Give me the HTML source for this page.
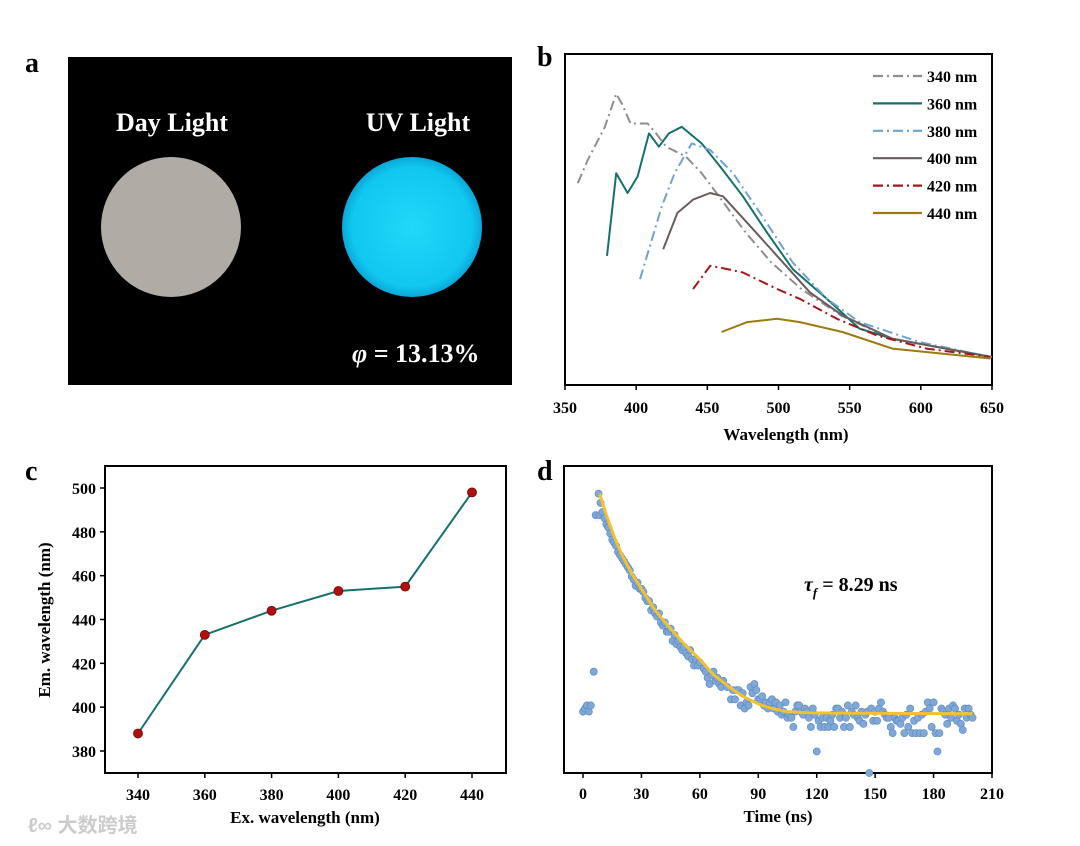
<!DOCTYPE html>
<html><head><meta charset="utf-8"><style>
html,body{margin:0;padding:0;background:#fff;}
svg{display:block;font-family:"Liberation Serif",serif;font-weight:bold;}
</style></head><body>
<svg id="fig" width="1080" height="846" viewBox="0 0 1080 846" xmlns="http://www.w3.org/2000/svg">
<g font-size="28" fill="#000">
<text x="25" y="72">a</text>
<text x="537" y="66">b</text>
<text x="25" y="480">c</text>
<text x="537" y="480">d</text>
</g>
<g>
<rect x="68" y="57" width="444" height="328" fill="#000"/>
<defs><radialGradient id="cy" cx="50%" cy="50%" r="50%"><stop offset="0" stop-color="#20d8f8"/><stop offset="0.85" stop-color="#10c8f0"/><stop offset="1" stop-color="#0aa8d8"/></radialGradient></defs>
<circle cx="171" cy="227" r="70" fill="#b0aca5"/>
<circle cx="412" cy="227" r="70" fill="url(#cy)"/>
<text x="172" y="131" text-anchor="middle" font-size="26" fill="#fff">Day Light</text>
<text x="418" y="131" text-anchor="middle" font-size="26" fill="#fff">UV Light</text>
<text x="352" y="362" font-size="26" fill="#fff"><tspan font-style="italic">φ</tspan> = 13.13%</text>
</g>
<g id="pb"></g>
<g id="pc"></g>
<g id="pd"></g>
<text x="28" y="832" font-size="20" fill="#ccc" font-family="'Liberation Sans','Noto Sans CJK SC',sans-serif">ℓ∞ 大数跨境</text>
</svg>
<script>
// ---- Panel b data ----
const bSeriesNames=["340 nm","360 nm","380 nm","400 nm","420 nm","440 nm"];
const wl340=[359,366,378,386,390,396,408,414,421,435,446,453,477,495,516,544,579,650];
const in340=[0.61,0.68,0.78,0.88,0.85,0.79,0.79,0.76,0.72,0.69,0.64,0.60,0.46,0.37,0.29,0.21,0.14,0.085];
const wl360=[379.5,386,394,401,409,416,423,432,446,459,475,492,510,534,557,580,649];
const in360=[0.39,0.64,0.58,0.63,0.76,0.72,0.76,0.78,0.73,0.66,0.57,0.46,0.35,0.26,0.17,0.14,0.085];
const wl380=[402.7,418,427,439,452,468,487,510,534,557,599,649];
const in380=[0.32,0.54,0.64,0.73,0.71,0.64,0.52,0.37,0.26,0.19,0.13,0.085];
const wl400=[419,429,440,452,461,478,499,522,545,580,649];
const in400=[0.41,0.52,0.56,0.58,0.57,0.49,0.39,0.28,0.21,0.14,0.085];
const wl420=[440,452,464,475,499,515,541,569,604,649];
const in420=[0.29,0.36,0.35,0.34,0.29,0.26,0.20,0.15,0.11,0.085];
const wl440=[460,478,499,515,545,580,649];
const in440=[0.16,0.19,0.20,0.19,0.16,0.11,0.08];
const bTicks=[350,400,450,500,550,600,650];
// ---- Panel c data ----
const exWl=[340,360,380,400,420,440];
const emWl=[388,433,444,453,455,498];
const cXTicks=[340,360,380,400,420,440];
const cYTicks=[380,400,420,440,460,480,500];
// ---- Panel d data ----
const dTimes=[0,1,2,3,4,5.5,6.5,8,8.5,9,10,11,12,13,14,15,16,17,18,19,20,21,22,23,24,25,26,27,28,29,30,31,32,33,34,35,36,37,38,39,40,41,42,43,44,45,46,47,48,49,50,51,52,53,54,55,56,57,58,59,60,62,63,64,65,66,67,68,69,70,71,72,74,76,77,78,79,80,81,82,83,84,85,86,87,88,89,90,91,92,93,94,95,96,97,98,99,100,101,102,103,104,105,106,107,108,109,110,111,112,113,114,115,116,117,118,119,120,121,122,123,124,125,126,127,128,129,130,131,132,133,134,135,136,137,138,139,140,141,142,143,144,145,146,147,148,149,150,151,152,153,154,155,156,157,158,159,160,161,162,163,164,165,166,167,168,169,170,171,172,173,174,175,176,177,178,179,180,181,182,183,184,185,186,187,188,189,190,191,192,193,194,195,196,197,198,199,200];
const dCounts=[0.20,0.21,0.22,0.20,0.22,0.33,0.84,0.91,0.84,0.88,0.85,0.83,0.81,0.80,0.78,0.76,0.75,0.74,0.72,0.71,0.70,0.69,0.68,0.67,0.66,0.64,0.63,0.61,0.62,0.60,0.60,0.59,0.57,0.56,0.56,0.53,0.54,0.52,0.51,0.52,0.49,0.48,0.49,0.46,0.46,0.47,0.43,0.45,0.42,0.43,0.41,0.40,0.41,0.39,0.38,0.40,0.37,0.35,0.37,0.35,0.36,0.34,0.33,0.31,0.29,0.32,0.33,0.30,0.31,0.29,0.28,0.30,0.28,0.24,0.27,0.24,0.27,0.27,0.22,0.26,0.21,0.23,0.22,0.28,0.26,0.29,0.27,0.24,0.24,0.25,0.22,0.23,0.21,0.23,0.24,0.21,0.23,0.20,0.22,0.19,0.20,0.23,0.18,0.19,0.18,0.15,0.20,0.22,0.22,0.20,0.19,0.21,0.20,0.18,0.15,0.21,0.19,0.07,0.17,0.15,0.18,0.15,0.18,0.15,0.17,0.19,0.15,0.21,0.21,0.18,0.20,0.15,0.18,0.22,0.15,0.20,0.19,0.22,0.18,0.17,0.20,0.16,0.19,0.20,0.00,0.21,0.17,0.20,0.17,0.21,0.23,0.20,0.19,0.18,0.18,0.15,0.13,0.18,0.17,0.17,0.16,0.18,0.13,0.19,0.15,0.21,0.13,0.17,0.13,0.18,0.13,0.19,0.13,0.20,0.23,0.21,0.15,0.23,0.13,0.07,0.13,0.21,0.20,0.19,0.16,0.21,0.18,0.22,0.21,0.17,0.19,0.16,0.14,0.21,0.18,0.21,0.19,0.18];
const fitTimes=[8.5,12,16,20,25,30,37,45,52,60,67,75,82,90,97,105,115,130,200];
const fitCounts=[0.91,0.84,0.77,0.71,0.65,0.60,0.53,0.47,0.42,0.37,0.32,0.28,0.25,0.225,0.21,0.20,0.196,0.195,0.193];
const dTicks=[0,30,60,90,120,150,180,210];

const NS="http://www.w3.org/2000/svg";
function mk(parent,tag,attrs){const e=document.createElementNS(NS,tag);for(const k in attrs)e.setAttribute(k,attrs[k]);parent.appendChild(e);return e;}
function poly(xs,ys,fx,fy){return xs.map((v,i)=>fx(v).toFixed(1)+","+fy(ys[i]).toFixed(1)).join(" ");}

// Panel b
(function(){
const g=document.getElementById('pb');
const L=565,R=992,T=54,B=385;
const fx=v=>L+(v-350)/300*(R-L), fy=v=>B-v*(B-T);
const box=mk(g,'rect',{x:L,y:T,width:R-L,height:B-T,fill:'none',stroke:'#000','stroke-width':2});


const cols=["#8e8e8e","#17706c","#6fa3d3","#6b5c5c","#a3171a","#9b7a12"];
const dash=["10,4,2,4","","10,4,2,4","","10,4,2,4",""];
const wls=[wl340,wl360,wl380,wl400,wl420,wl440], ins=[in340,in360,in380,in400,in420,in440];
wls.forEach((w,i)=>{
 const p=mk(g,'polyline',{points:poly(w,ins[i],fx,fy),fill:'none',stroke:cols[i],'stroke-width':2,'stroke-dasharray':dash[i],'stroke-linejoin':'round'});
 
 
 const y=76+i*27.4;
 const l=mk(g,'line',{x1:873,x2:922,y1:y,y2:y,stroke:cols[i],'stroke-width':2.2,'stroke-dasharray':dash[i]});
 
 
 const t=mk(g,'text',{x:927,y:y+6,'font-size':16});t.textContent=bSeriesNames[i];
 
 
});
bTicks.forEach(v=>{
 const tk=mk(g,'line',{x1:fx(v),x2:fx(v),y1:B,y2:B+5,stroke:'#000','stroke-width':1.5});
 
 
 const t=mk(g,'text',{x:fx(v),y:B+28,'text-anchor':'middle','font-size':16});t.textContent=v;
 
 
});
const at=mk(g,'text',{x:786,y:440,'text-anchor':'middle','font-size':17});at.textContent="Wavelength (nm)";


})();

// Panel c
(function(){
const g=document.getElementById('pc');
const L=105,R=506,T=466,B=773;
const fx=v=>138+(v-340)/100*(472-138), fy=v=>751-(v-380)/120*(751-488);
const box=mk(g,'rect',{x:L,y:T,width:R-L,height:B-T,fill:'none',stroke:'#000','stroke-width':2});


const ln=mk(g,'polyline',{points:poly(exWl,emWl,fx,fy),fill:'none',stroke:'#17706c','stroke-width':2});


exWl.forEach((v,i)=>{
 const c=mk(g,'circle',{cx:fx(v),cy:fy(emWl[i]),r:4.5,fill:'#b01010',stroke:'#700','stroke-width':0.8});
 
 
});
cXTicks.forEach(v=>{
 const tk=mk(g,'line',{x1:fx(v),x2:fx(v),y1:B,y2:B+5,stroke:'#000','stroke-width':1.5});
 
 
 const t=mk(g,'text',{x:fx(v),y:B+27,'text-anchor':'middle','font-size':16});t.textContent=v;
 
 
});
cYTicks.forEach(v=>{
 const tk=mk(g,'line',{x1:L-5,x2:L,y1:fy(v),y2:fy(v),stroke:'#000','stroke-width':1.5});
 
 
 const t=mk(g,'text',{x:L-9,y:fy(v)+6,'text-anchor':'end','font-size':16});t.textContent=v;
 
 
});
const xt=mk(g,'text',{x:305,y:823,'text-anchor':'middle','font-size':17});xt.textContent="Ex. wavelength (nm)";


const yt=mk(g,'text',{x:0,y:0,'text-anchor':'middle','font-size':17,transform:'translate(50,620) rotate(-90)'});yt.textContent="Em. wavelength (nm)";


})();

// Panel d
(function(){
const g=document.getElementById('pd');
const L=564,R=992,T=466,B=773;
const fx=v=>583+v/210*(992-583), fy=v=>B-v*(B-T);
const box=mk(g,'rect',{x:L,y:T,width:R-L,height:B-T,fill:'none',stroke:'#000','stroke-width':2});


dTimes.forEach((v,i)=>{
 const c=mk(g,'circle',{cx:fx(v),cy:fy(dCounts[i]),r:3.6,fill:'#7fa8d8',stroke:'#5a86bb','stroke-width':0.6});
 
 
});
const f=mk(g,'polyline',{points:poly(fitTimes,fitCounts,fx,fy),fill:'none',stroke:'#f2c12e','stroke-width':3,'stroke-linejoin':'round'});


dTicks.forEach(v=>{
 const tk=mk(g,'line',{x1:fx(v),x2:fx(v),y1:B,y2:B+5,stroke:'#000','stroke-width':1.5});
 
 
 const t=mk(g,'text',{x:fx(v),y:B+26,'text-anchor':'middle','font-size':16});t.textContent=v;
 
 
});
const xt=mk(g,'text',{x:778,y:822,'text-anchor':'middle','font-size':17});xt.textContent="Time (ns)";


const ann=mk(g,'text',{x:804,y:591,'font-size':20});
ann.innerHTML='<tspan font-style="italic">τ</tspan><tspan font-style="italic" font-size="13" dy="6">f</tspan><tspan dy="-6"> = 8.29 ns</tspan>';


})();
</script>
</body></html>
